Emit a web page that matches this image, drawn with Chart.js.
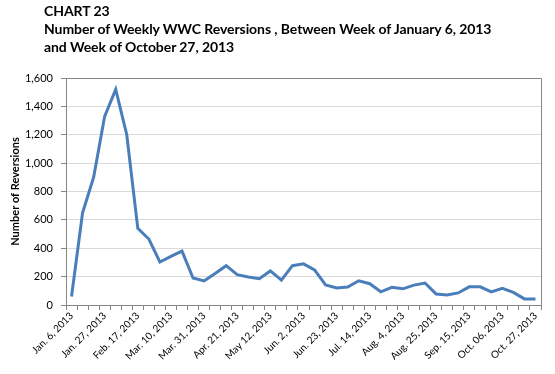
<!DOCTYPE html>
<html>
<head>
<meta charset="utf-8">
<script src="https://cdn.jsdelivr.net/npm/chart.js@4/dist/chart.umd.min.js"></script>
<style>
  html, body { margin: 0; padding: 0; background: #fff; }
  #wrap { position: relative; width: 555px; height: 374px; }
  #title { position: absolute; left: 44px; top: 2px; font-family: Lato, "Liberation Sans", sans-serif; font-weight: bold; font-size: 14px; line-height: 18px; letter-spacing: -0.08px; color: #000; white-space: nowrap; }
  canvas { position: absolute; left: 0; top: 0; }
</style>
</head>
<body>
<div id="wrap">
  <canvas id="c" width="555" height="374"></canvas>
  <div id="title">CHART 23<br>Number of Weekly WWC Reversions , Between Week of January 6, 2013<br>and Week of October 27, 2013</div>
</div>
<script>
const weeks = [
  "Jan. 6, 2013", "Jan. 13, 2013", "Jan. 20, 2013", "Jan. 27, 2013", "Feb. 3, 2013", "Feb. 10, 2013",
  "Feb. 17, 2013", "Feb. 24, 2013", "Mar. 3, 2013", "Mar. 10, 2013", "Mar. 17, 2013", "Mar. 24, 2013",
  "Mar. 31, 2013", "Apr. 7, 2013", "Apr. 14, 2013", "Apr. 21, 2013", "Apr. 28, 2013", "May 5, 2013",
  "May 12, 2013", "May 19, 2013", "May 26, 2013", "Jun. 2, 2013", "Jun. 9, 2013", "Jun. 16, 2013",
  "Jun. 23, 2013", "Jun. 30, 2013", "Jul. 7, 2013", "Jul. 14, 2013", "Jul. 21, 2013", "Jul. 28, 2013",
  "Aug. 4, 2013", "Aug. 11, 2013", "Aug. 18, 2013", "Aug. 25, 2013", "Sep. 1, 2013", "Sep. 8, 2013",
  "Sep. 15, 2013", "Sep. 22, 2013", "Sep. 29, 2013", "Oct. 06, 2013", "Oct. 13, 2013", "Oct. 20, 2013",
  "Oct. 27, 2013"
];
const reversions = [
  60, 650, 900, 1330, 1520, 1200, 540, 465, 303, 343, 380, 190,
  170, 222, 277, 214, 198, 185, 240, 175, 277, 290, 248, 141,
  120, 127, 171, 150, 93, 125, 114, 140, 155, 78, 71, 85,
  128, 128, 93, 118, 89, 43, 43
];
const yTicks = [0, 200, 400, 600, 800, 1000, 1200, 1400, 1600];

const FONT = "Lato, 'Liberation Sans', sans-serif";
new Chart(document.getElementById('c'), {
  type: 'line',
  data: {
    labels: weeks,
    datasets: [{
      data: reversions,
      borderColor: '#4a7ebb',
      borderWidth: 3,
      pointRadius: 0,
      tension: 0,
      fill: false
    }]
  },
  options: {
    responsive: false,
    animation: false,
    layout: { padding: { top: 78, right: 14, left: 0, bottom: 0 } },
    plugins: { legend: { display: false }, tooltip: { enabled: false }, title: { display: false } },
    scales: {
      x: {
        offset: true,
        afterFit: s => { s.height = 69; },
        grid: { display: true, drawOnChartArea: false, drawTicks: true, tickLength: 5, offset: true, color: '#868686' },
        border: { display: true, color: '#868686' },
        ticks: {
          autoSkip: false, maxRotation: 45, minRotation: 45, padding: 0,
          color: '#000', font: { family: FONT, size: 10 },
          callback: function(v, i) { return i % 3 === 0 ? weeks[i] : ''; }
        }
      },
      y: {
        min: 0, max: 1600,
        afterFit: s => { s.width = 66; },
        afterBuildTicks: s => { s.ticks = yTicks.map(v => ({ value: v })); },
        grid: { color: '#d9d9d9', tickColor: '#868686', tickLength: 5, drawTicks: true },
        border: { display: true, color: '#868686' },
        title: { display: true, text: 'Number of Reversions', color: '#000', font: { family: FONT, size: 11, weight: 'bold' }, padding: { top: 9, bottom: 2 } },
        ticks: {
          padding: 8, color: '#000', font: { family: FONT, size: 11 },
          callback: v => v.toLocaleString('en-US')
        }
      }
    }
  },
  plugins: [{
    id: 'frame',
    afterDraw(chart) {
      const a = chart.chartArea, ctx = chart.ctx;
      ctx.save();
      ctx.strokeStyle = '#868686'; ctx.lineWidth = 1;
      ctx.beginPath();
      ctx.moveTo(a.left, a.top + 0.5); ctx.lineTo(a.right + 0.5, a.top + 0.5); ctx.lineTo(a.right + 0.5, a.bottom);
      ctx.stroke();
      ctx.restore();
    }
  }]
});
</script>
</body>
</html>
